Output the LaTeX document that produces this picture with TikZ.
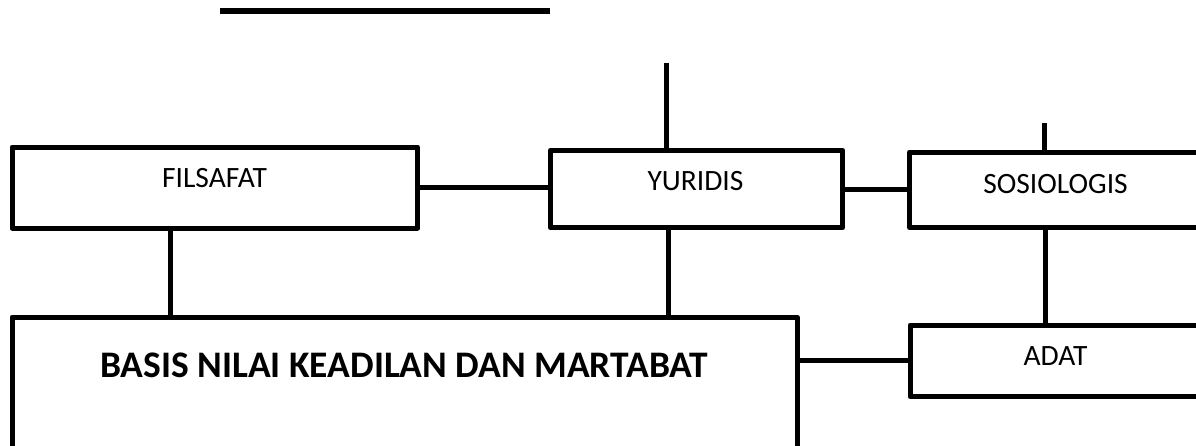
\documentclass[tikz,border=0pt]{standalone}
\usepackage{fontspec}
\setmainfont{Carlito}
\begin{document}
\begin{tikzpicture}[x=1pt,y=-1pt,
  box/.style={draw=black,line width=5pt,line join=round,rectangle,inner sep=0pt,outer sep=0pt},
  lbl/.style={anchor=base,inner sep=0pt,font=\fontsize{29.5}{34}\selectfont},
  title/.style={anchor=base,inner sep=0pt,font=\fontsize{37.5}{44}\selectfont\bfseries},
  link/.style={line width=5pt,line cap=butt}]
\useasboundingbox (0,0) rectangle (1196,445);
\clip (0,0) rectangle (1196,445);

% frames
\node[box,minimum width=405.5pt,minimum height=81pt] (fil) at (214.75,187.5) {};
\node[box,minimum width=292pt,minimum height=77.5pt] (yur) at (696.5,189) {};
\node[box,minimum width=350.5pt,minimum height=75.5pt] (sos) at (1084.75,189.75) {};
\node[box,minimum width=785pt,minimum height=183pt] (bas) at (404.5,408.5) {};
\node[box,minimum width=350pt,minimum height=71.5pt] (ada) at (1085,360.75) {};

% captions
\node[lbl] (tfil) at (214.5,187) {FILSAFAT};
\node[lbl] (tyur) at (695.5,190) {YURIDIS};
\node[lbl] (tsos) at (1055.5,193) {SOSIOLOGIS};
\node[lbl] (tada) at (1055.5,365) {ADAT};
\node[title] (tbas) at (404,377) {BASIS NILAI KEADILAN DAN MARTABAT};

% reference points for the vertical links
\coordinate (xf) at (170.5,0);
\coordinate (xy) at (668,0);
\coordinate (xs) at (1045,0);
\coordinate (ytop) at (666,63);
\coordinate (stop) at (1044.5,123);
\coordinate (ra) at (220,10.5);
\coordinate (rb) at (550,10.5);

% horizontal links
\draw[link] (fil.east) -- (fil.east -| yur.west);
\draw[link] (yur.east) -- (yur.east -| sos.west);
\draw[link] (ada.west) -- (ada.west -| bas.east);

% vertical links
\draw[link] (fil.south -| xf) -- (bas.north -| xf);
\draw[link] (yur.south -| xy) -- (bas.north -| xy);
\draw[link] (sos.south -| xs) -- (ada.north -| xs);
\draw[link] (ytop) -- (ytop |- yur.north);
\draw[link] (stop) -- (stop |- sos.north);

% rule at the top
\draw[line width=6pt] (ra) -- (rb);
\end{tikzpicture}
\end{document}
